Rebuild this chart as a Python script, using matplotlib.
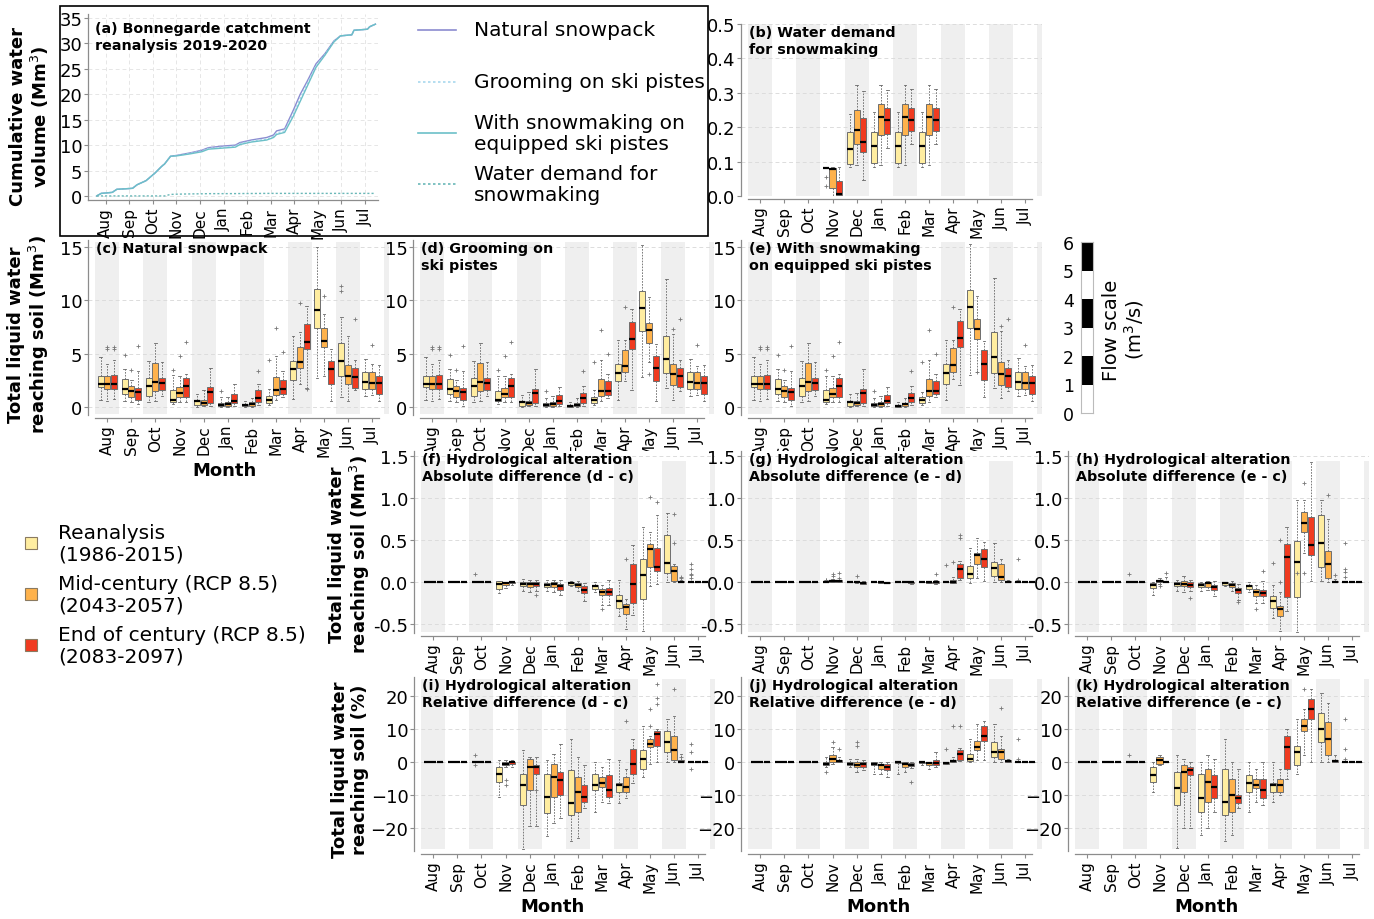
import matplotlib
matplotlib.use("Agg")
import matplotlib.pyplot as plt
from matplotlib.patches import Rectangle
from matplotlib.lines import Line2D

W, H = 1374, 920

months = ["Aug", "Sep", "Oct", "Nov", "Dec", "Jan", "Feb", "Mar", "Apr", "May", "Jun", "Jul"]
scenarios = ["Reanalysis\n(1986-2015)", "Mid-century (RCP 8.5)\n(2043-2057)",
             "End of century (RCP 8.5)\n(2083-2097)"]
colors = ["#ffeda0", "#feb24c", "#f03b20"]

# (a) cumulative volumes, x in month units (Aug = 1)
a_x = [0.62, 0.81, 1.28, 1.47, 2.14, 2.33, 2.71, 3.09, 3.37, 3.50, 3.75, 4.04, 4.61, 5.08, 5.36,
       5.93, 6.50, 6.69, 7.17, 7.83, 8.12, 8.25, 8.59, 8.97, 9.25, 9.54, 9.92, 10.30, 10.68,
       10.96, 11.44, 11.53, 12.10, 12.20, 12.44]
a_natural = [0, 0.5, 0.7, 1.3, 1.5, 2.2, 3.0, 4.5, 5.8, 6.3, 7.8, 8.0, 8.5, 9.0, 9.5, 9.8, 10.0,
             10.5, 11.0, 11.5, 12.0, 12.8, 13.2, 17.0, 20.0, 22.5, 26.0, 28.0, 30.5, 31.5, 31.7,
             32.6, 32.8, 33.3, 33.8]
a_grooming = [0, 0.5, 0.7, 1.3, 1.5, 2.2, 3.0, 4.5, 5.8, 6.3, 7.8, 7.95, 8.4, 8.85, 9.35, 9.6,
              9.8, 10.3, 10.8, 11.2, 11.7, 12.4, 12.8, 16.3, 19.2, 22.0, 25.6, 27.8, 30.4, 31.5,
              31.7, 32.6, 32.8, 33.3, 33.8]
a_snowmaking = [0, 0.5, 0.7, 1.3, 1.5, 2.2, 3.0, 4.5, 5.8, 6.3, 7.8, 7.9, 8.3, 8.7, 9.2, 9.4,
                9.6, 10.1, 10.6, 11.0, 11.5, 12.1, 12.5, 15.8, 18.6, 21.5, 25.3, 27.7, 30.3,
                31.5, 31.7, 32.6, 32.8, 33.3, 33.8]
a_demand = [0, 0, 0, 0, 0, 0, 0, 0, 0, 0, 0.3, 0.35, 0.4, 0.42, 0.45, 0.45, 0.46, 0.47, 0.48,
            0.5, 0.5, 0.5, 0.5, 0.5, 0.5, 0.5, 0.5, 0.5, 0.5, 0.5, 0.5, 0.5, 0.5, 0.5, 0.5]

Z = (0, 0, 0, 0, 0)
# box stats per month: (whisker low, q1, median, q3, whisker high)
b_rea = [None, None, None, (0.08, 0.08, 0.08, 0.08, 0.08), (0.084, 0.094, 0.137, 0.186, 0.239),
         (0.084, 0.097, 0.144, 0.186, 0.244), (0.084, 0.097, 0.144, 0.186, 0.244),
         (0.084, 0.097, 0.144, 0.186, 0.244), None, None, None, None]
b_mid = [None, None, None, (0.0, 0.023, 0.079, 0.081, 0.084), (0.089, 0.152, 0.193, 0.25, 0.323),
         (0.089, 0.178, 0.229, 0.268, 0.323), (0.089, 0.178, 0.229, 0.268, 0.323),
         (0.089, 0.178, 0.229, 0.268, 0.323), None, None, None, None]
b_end = [None, None, None, (0.0, 0.004, 0.007, 0.045, 0.084), (0.047, 0.128, 0.157, 0.227, 0.304),
         (0.139, 0.181, 0.22, 0.256, 0.309), (0.15, 0.189, 0.22, 0.256, 0.31),
         (0.15, 0.189, 0.22, 0.256, 0.31), None, None, None, None]
b_fliers = [{3: [0.03, 0.055]}, {}, {}]

c_rea = [(0.7, 1.9, 2.2, 2.9, 4.7), (0.6, 1.25, 1.7, 2.65, 3.6), (0.5, 1.0, 2.0, 2.7, 4.3),
         (0.3, 0.5, 0.7, 1.6, 3.0), (0.0, 0.15, 0.6, 0.7, 1.25), (0.0, 0.05, 0.2, 0.4, 0.95),
         (0.0, 0.05, 0.15, 0.25, 0.6), (0.15, 0.35, 0.7, 1.0, 1.7), (0.75, 2.55, 3.55, 4.35, 6.7),
         (2.75, 7.4, 9.1, 11.05, 15.0), (0.95, 2.95, 4.35, 6.0, 8.4), (1.0, 1.7, 2.35, 3.25, 4.5)]
c_mid = [(0.6, 1.7, 2.2, 2.9, 4.0), (0.5, 0.95, 1.5, 1.95, 2.5), (0.6, 1.5, 2.3, 4.1, 6.0),
         (0.45, 0.9, 1.3, 1.85, 2.95), (0.05, 0.2, 0.4, 0.7, 1.55), (0.0, 0.1, 0.3, 0.45, 0.9),
         (0.03, 0.1, 0.25, 0.45, 0.85), (0.7, 1.15, 1.55, 2.8, 4.8), (2.2, 3.65, 4.25, 5.65, 7.0),
         (2.9, 5.6, 6.2, 7.4, 8.7), (0.6, 2.2, 2.95, 3.95, 6.7), (1.1, 1.7, 2.25, 3.25, 4.0)]
c_end = [(0.75, 1.7, 2.2, 3.0, 4.4), (0.25, 0.7, 1.45, 1.8, 3.4), (1.0, 1.6, 2.25, 2.7, 4.2),
         (0.45, 0.95, 2.0, 2.75, 3.1), (0.05, 0.4, 1.4, 1.85, 3.65), (0.05, 0.35, 0.6, 1.25, 2.2),
         (0.15, 0.45, 0.85, 1.55, 2.2), (0.9, 1.25, 1.65, 2.5, 3.4), (1.8, 5.45, 6.05, 7.8, 9.5),
         (0.6, 2.2, 3.55, 4.3, 5.45), (1.55, 1.8, 2.85, 3.65, 4.4), (0.6, 1.2, 2.25, 2.95, 3.95)]
c_fliers = [{1: [4.9], 3: [3.5], 5: [1.5], 7: [4.4], 10: [10.9, 11.3]},
            {0: [5.4, 5.6], 1: [3.5], 3: [4.8], 7: [7.4], 8: [9.7], 9: [10.4], 11: [5.8]},
            {0: [5.4, 5.6], 1: [5.7], 3: [6.1], 6: [3.4], 7: [5.2], 8: [1.65], 10: [8.2]}]

d_rea = [(0.7, 1.9, 2.2, 2.9, 4.7), (0.6, 1.25, 1.7, 2.65, 3.6), (0.5, 1.0, 2.0, 2.7, 4.3),
         (0.3, 0.6, 0.7, 1.5, 2.9), (0.0, 0.1, 0.45, 0.6, 1.1), (0.0, 0.05, 0.15, 0.35, 0.8),
         (0.0, 0.03, 0.1, 0.2, 0.5), (0.15, 0.35, 0.65, 0.95, 1.6), (0.7, 2.4, 3.2, 4.0, 6.3),
         (2.8, 7.1, 9.3, 10.9, 15.2), (1.8, 3.2, 4.5, 6.7, 12.0), (1.0, 1.7, 2.35, 3.25, 4.5)]
d_mid = [(0.6, 1.7, 2.2, 2.9, 4.0), (0.5, 0.95, 1.5, 1.95, 2.5), (0.6, 1.5, 2.3, 4.1, 6.0),
         (0.45, 0.9, 1.25, 1.8, 2.9), (0.05, 0.15, 0.35, 0.6, 1.4), (0.0, 0.1, 0.3, 0.45, 1.0),
         (0.03, 0.1, 0.2, 0.4, 0.8), (0.6, 1.05, 1.5, 2.6, 4.4), (2.4, 3.3, 3.85, 5.3, 6.3),
         (4.2, 6.0, 7.2, 7.9, 10.3), (0.7, 2.1, 3.05, 4.0, 6.8), (1.1, 1.7, 2.25, 3.25, 3.8)]
d_end = [(0.75, 1.7, 2.2, 3.0, 4.4), (0.1, 0.7, 1.4, 1.8, 3.4), (1.0, 1.6, 2.25, 2.7, 4.2),
         (0.45, 0.95, 1.95, 2.7, 3.1), (0.05, 0.35, 1.3, 1.7, 3.6), (0.05, 0.3, 0.55, 1.15, 1.9),
         (0.1, 0.4, 0.8, 1.3, 2.0), (0.8, 1.15, 1.5, 2.4, 3.1), (1.6, 5.4, 6.4, 8.0, 9.2),
         (0.6, 2.4, 3.7, 4.8, 5.9), (1.5, 1.9, 2.9, 3.7, 4.4), (0.6, 1.2, 2.25, 2.95, 3.95)]
d_fliers = [{1: [4.9], 3: [3.5], 5: [1.5], 7: [4.2]},
            {0: [5.4, 5.6], 1: [3.5], 3: [4.8], 7: [7.2], 8: [9.4], 9: [3.1], 10: [7.3], 11: [5.8]},
            {0: [5.4, 5.6], 1: [5.7], 3: [6.1], 6: [3.4], 7: [5.0], 10: [8.2]}]

e_rea = [(0.7, 1.9, 2.2, 2.9, 4.7), (0.6, 1.25, 1.7, 2.65, 3.6), (0.5, 1.0, 2.0, 2.7, 4.3),
         (0.3, 0.5, 0.65, 1.55, 2.9), (0.0, 0.1, 0.45, 0.6, 1.2), (0.0, 0.05, 0.15, 0.35, 0.8),
         (0.0, 0.03, 0.1, 0.2, 0.5), (0.15, 0.4, 0.65, 0.95, 1.4), (0.7, 2.2, 3.2, 4.0, 6.3),
         (3.0, 7.4, 9.4, 11.0, 15.3), (1.8, 3.2, 4.7, 7.0, 12.1), (1.0, 1.7, 2.35, 3.3, 4.6)]
e_mid = [(0.6, 1.7, 2.2, 2.9, 4.0), (0.5, 0.95, 1.5, 1.95, 2.5), (0.6, 1.5, 2.3, 4.1, 6.0),
         (0.45, 0.9, 1.25, 1.8, 2.9), (0.05, 0.15, 0.35, 0.6, 1.3), (0.0, 0.1, 0.3, 0.45, 1.0),
         (0.03, 0.1, 0.25, 0.4, 0.8), (0.5, 1.0, 1.5, 2.6, 4.4), (2.6, 3.3, 3.9, 5.5, 6.3),
         (3.3, 6.4, 7.3, 8.2, 10.4), (0.8, 2.1, 3.1, 4.2, 7.1), (1.1, 1.7, 2.25, 3.3, 3.8)]
e_end = [(0.75, 1.7, 2.2, 3.0, 4.4), (0.1, 0.7, 1.4, 1.8, 3.4), (1.0, 1.6, 2.25, 2.7, 4.2),
         (0.45, 0.95, 2.0, 2.75, 3.1), (0.05, 0.35, 1.35, 1.7, 3.6), (0.05, 0.4, 0.55, 1.15, 1.9),
         (0.15, 0.45, 0.85, 1.3, 2.0), (0.9, 1.2, 1.5, 2.4, 3.1), (2.1, 5.6, 6.5, 8.1, 9.2),
         (0.9, 2.5, 4.0, 5.3, 6.2), (1.5, 1.9, 2.9, 3.7, 4.4), (0.6, 1.2, 2.25, 2.95, 3.95)]
e_fliers = [{1: [4.9], 3: [3.5], 5: [1.5], 7: [4.2]},
            {0: [5.4, 5.6], 1: [3.5], 3: [4.8], 7: [7.2], 8: [9.4], 9: [3.3], 10: [7.6], 11: [5.8]},
            {0: [5.4, 5.6], 1: [5.7], 3: [6.1], 6: [3.4], 7: [5.0], 10: [8.2]}]

f_rea = [Z, Z, Z, (-0.13, -0.08, -0.02, 0.01, 0.01), (-0.11, -0.05, -0.02, 0.0, 0.04),
         (-0.11, -0.06, -0.03, -0.01, 0.02), (-0.05, -0.03, -0.01, 0.0, 0.01),
         (-0.12, -0.08, -0.05, -0.03, 0.0), (-0.41, -0.31, -0.23, -0.16, 0.03),
         (-0.58, -0.2, 0.08, 0.28, 0.65), (0.0, 0.11, 0.23, 0.56, 0.82), Z]
f_mid = [Z, Z, Z, (-0.07, -0.03, -0.01, 0.0, 0.0), (-0.12, -0.06, -0.02, 0.0, 0.03),
         (-0.12, -0.06, -0.02, 0.0, 0.02), (-0.11, -0.06, -0.04, -0.01, 0.01),
         (-0.27, -0.16, -0.12, -0.08, -0.03), (-0.56, -0.38, -0.3, -0.26, -0.2),
         (-0.05, 0.18, 0.39, 0.45, 0.6), (0.0, 0.01, 0.13, 0.19, 0.22), Z]
f_end = [Z, Z, Z, (-0.04, -0.01, 0.0, 0.0, 0.0), (-0.11, -0.05, -0.02, 0.0, 0.03),
         (-0.16, -0.09, -0.05, -0.02, 0.03), (-0.23, -0.13, -0.09, -0.05, -0.01),
         (-0.27, -0.16, -0.12, -0.07, 0.03), (-0.39, -0.25, -0.02, 0.21, 0.44),
         (-0.02, 0.13, 0.18, 0.41, 0.8), (0.0, 0.0, 0.0, 0.01, 0.03), Z]
f_fliers = [{2: [0.1], 11: [0.21, 0.15, 0.1, 0.08, 0.05]},
            {7: [-0.32], 8: [0.27], 9: [1.01], 10: [0.47, 0.81]},
            {4: [-0.16], 9: [0.95], 10: [0.05, 0.06]}]

g_rea = [Z, Z, Z, (0, 0, 0, 0, 0.01), Z, Z, Z, Z, Z, (-0.01, 0.05, 0.1, 0.19, 0.4),
         (0.0, 0.07, 0.17, 0.24, 0.46), Z]
g_mid = [Z, Z, Z, (0, 0, 0.01, 0.02, 0.04), (-0.01, 0, 0, 0, 0.01), (-0.01, -0.01, 0, 0, 0), Z,
         (-0.01, -0.01, 0, 0, 0), (-0.01, -0.01, 0.0, 0.02, 0.06), (0.05, 0.22, 0.32, 0.35, 0.53),
         (0.0, 0.02, 0.06, 0.21, 0.27), Z]
g_end = [Z, Z, Z, (0, 0, 0.01, 0.02, 0.03), (-0.02, -0.02, -0.01, 0, 0.01),
         (-0.01, -0.01, -0.01, 0, 0), (-0.02, -0.01, 0, 0, 0), (-0.02, -0.01, 0, 0.01, 0.02),
         (0.02, 0.05, 0.15, 0.21, 0.25), (0.01, 0.18, 0.28, 0.39, 0.48), (0, 0, 0, 0.01, 0.03), Z]
g_fliers = [{3: [0.02, 0.03], 8: [0.2], 11: [0.27, 0.03]},
            {3: [0.07, 0.1], 4: [0.07], 8: [0.24]},
            {3: [0.05, 0.11], 7: [0.1], 8: [0.53, 0.56]}]

h_rea = [Z, Z, Z, (-0.15, -0.07, -0.03, -0.01, 0.0), (-0.11, -0.05, -0.02, 0.0, 0.03),
         (-0.11, -0.06, -0.03, -0.01, 0.0), (-0.05, -0.03, -0.01, 0.0, 0.0),
         (-0.12, -0.08, -0.05, -0.03, 0.0), (-0.43, -0.31, -0.23, -0.17, -0.03),
         (-0.6, -0.18, 0.24, 0.49, 0.98), (0.01, 0.18, 0.46, 0.8, 0.98), Z]
h_mid = [Z, Z, Z, (-0.02, 0.0, 0.01, 0.02, 0.05), (-0.12, -0.05, -0.02, 0.01, 0.07),
         (-0.1, -0.06, -0.01, 0.0, 0.01), (-0.11, -0.06, -0.04, -0.01, 0.01),
         (-0.25, -0.17, -0.12, -0.08, -0.03), (-0.58, -0.4, -0.32, -0.28, -0.12),
         (0.34, 0.6, 0.7, 0.83, 0.98), (0.0, 0.05, 0.21, 0.37, 0.75), Z]
h_end = [Z, Z, Z, (0.0, 0.0, 0.0, 0.0, 0.06), (-0.11, -0.06, -0.03, 0.0, 0.02),
         (-0.17, -0.09, -0.06, -0.03, 0.01), (-0.21, -0.13, -0.1, -0.07, -0.02),
         (-0.25, -0.17, -0.13, -0.1, 0.01), (-0.35, -0.18, 0.3, 0.45, 0.65),
         (0.01, 0.32, 0.44, 0.78, 1.43), (0.0, 0.0, 0.0, 0.01, 0.04), Z]
h_fliers = [{2: [0.1], 8: [0.23], 9: [0.11], 11: [0.47, 0.16, 0.12, 0.06]},
            {3: [-0.05], 7: [-0.32], 8: [0.5, 0.0], 9: [1.18, 0.11], 10: [1.04]},
            {3: [0.11], 4: [-0.19], 6: [-0.24], 7: [0.13], 10: [0.08]}]

i_rea = [Z, Z, Z, (-10.5, -6, -3.5, -1.5, 0.5), (-26.5, -13, -7, -3.5, 3.5),
         (-22.5, -15.5, -10.5, -3.5, 0.5), (-24, -16, -12.5, -2.5, 7), (-15, -8.5, -7, -3.5, 0),
         (-12.5, -9, -7, -6.5, 0.5), (-4.5, -2, 1, 3.5, 11), (0, 3, 6, 9.5, 13), Z]
i_mid = [Z, Z, Z, (-1.5, -1, -0.5, 0, 0.5), (-19.5, -8.5, -1.5, 1, 1.5),
         (-18.5, -10.5, -4.5, -0.5, 2.5), (-23, -15, -9, -4.5, 1.5), (-12, -7.5, -6.5, -4.5, -1.5),
         (-11, -9, -7.5, -4.5, -2), (-0.5, 4.5, 5.5, 7, 8), (0, 0.5, 3.5, 8, 14), Z]
i_end = [Z, Z, Z, (-1.5, -0.5, 0, 0, 0.5), (-19.5, -3.5, -1.5, -1, 1.5),
         (-17, -10, -5.5, -3, 5.5), (-14, -12, -10.5, -7, -1), (-12.5, -10.5, -8.5, -4, 1),
         (-6.5, -3.5, -0.5, 4, 7), (0, 5, 8.5, 9.5, 10), (0, 0, 0, 0.5, 2.5), Z]
i_fliers = [{2: [2, -1], 11: [5.5, 3, -2]},
            {3: [-5.5, -7], 8: [12.5], 9: [11, 16], 10: [22]},
            {4: [-8.5], 9: [17.5, 19.5, 23.5], 10: [1.5]}]

j_rea = [Z, Z, Z, (-1.5, -1, -0.5, 0, 1.5), (-1.5, -1, -0.5, 0, 1), (-3.5, -1, -0.5, 0, 0),
         (-3.5, -0.2, 0, 0, 0), (-1, -0.3, 0, 0, 0), (-0.5, -0.5, -0.2, 0, 0), (0, 0.3, 1, 2.5, 7),
         (0, 1.5, 3, 6, 11.5), Z]
j_mid = [Z, Z, Z, (-0.5, 0, 1, 2, 4.5), (-3, -1.5, -1, 0, 1), (-3.5, -2, -1, -0.5, 0),
         (-3, -1.5, -0.5, 0, 0), (-2, -0.8, -0.4, 0, 0), (0, 0, 0.2, 0.5, 1.5),
         (0.5, 3.5, 4.5, 6.5, 11.5), (0, 1, 3, 4, 8), Z]
j_end = [Z, Z, Z, (0, 0, 0.3, 0.7, 1.5), (-2.5, -1.5, -0.5, 0, 0.5), (-4.5, -2.5, -1.5, -0.5, 0),
         (-1.8, -1.3, -0.8, -0.3, 0), (-1.5, -0.8, -0.2, 0.5, 3), (0.3, 0.5, 2.5, 3.5, 4.2),
         (0.5, 6.5, 8, 11, 12.5), (0, 0, 0.2, 0.5, 1), Z]
j_fliers = [{3: [-3], 8: [4], 11: [7, 1]},
            {3: [6], 4: [5, 6.2], 8: [11], 10: [16.5]},
            {3: [4], 6: [-6], 8: [11]}]

k_rea = [Z, Z, Z, (-9, -6, -4, -1.5, 0), (-26, -13, -8, -3, 2), (-22, -15, -11, -3.5, 0),
         (-24, -16, -12, -2, 7), (-15, -9, -6.5, -4, 0), (-12, -9, -7, -6.5, 0),
         (-3.5, -1, 3, 5, 13), (0, 6, 10, 15, 21), Z]
k_mid = [Z, Z, Z, (-1, -0.5, 0.5, 1.5, 2), (-20, -9, -3, -1, 1), (-20, -12, -6, -2, 2),
         (-22, -15, -10, -5, 0), (-12, -8, -7, -5, -2), (-10, -9, -7, -5, -2),
         (2, 9.5, 11, 13, 16), (0, 2, 7, 12, 18), Z]
k_end = [Z, Z, Z, Z, (-20, -4, -2.5, -1.5, 0), (-15, -11, -7.5, -4, 1), (-14, -12.5, -11, -10, -2),
         (-13, -11, -8.5, -5, 0), (-5, -2, 4.5, 8, 10), (0, 13, 16, 19, 22), (0, 0, 0.2, 0.5, 2), Z]
k_fliers = [{2: [2], 11: [13, 4, 1]}, {9: [22]}, {}]

flow_ticks = [0, 1, 2, 3, 4, 5, 6]


def rect(l, t, r, b):
    return [l / W, 1 - b / H, (r - l) / W, (b - t) / H]


def fx(x):
    return x / W


def fy(y):
    return 1 - y / H


fig = plt.figure(figsize=(W / 100, H / 100), dpi=100)

GRID = "#dcdcdc"
SPINE = "#8c8c8c"


def style_axes(ax):
    for s in ["top", "right"]:
        ax.spines[s].set_visible(False)
    for s in ["left", "bottom"]:
        ax.spines[s].set_color(SPINE)
        ax.spines[s].set_linewidth(0.9)
    ax.tick_params(axis="y", labelsize=13, length=3, color=SPINE, pad=1)
    ax.tick_params(axis="x", labelsize=11, length=3, color=SPINE, pad=2)


def box_panel(pos, ylim, yticks, band_y, series, fliers, title):
    ax = fig.add_axes(rect(*pos))
    ax.set_xlim(0.2, 12.7)
    ax.set_ylim(*ylim)
    for m in range(1, 14, 2):
        ax.add_patch(Rectangle((m - 0.5, band_y[0]), 1, band_y[1] - band_y[0],
                               facecolor="#efefef", edgecolor="none", zorder=0.2))
    ax.set_yticks(yticks)
    ax.yaxis.grid(True, linestyle=(0, (4, 3)), color=GRID, linewidth=0.7, zorder=0.3)
    ax.set_axisbelow(True)
    offsets = [-0.28, 0.0, 0.28]
    for k, (ser, fl) in enumerate(zip(series, fliers)):
        stats, positions = [], []
        for i, v in enumerate(ser):
            if v is None:
                continue
            lo, q1, med, q3, hi = v
            stats.append(dict(whislo=lo, q1=q1, med=med, q3=q3, whishi=hi, fliers=fl.get(i, [])))
            positions.append(i + 1 + offsets[k])
        ax.bxp(stats, positions=positions, widths=0.25, patch_artist=True, manage_ticks=False,
               boxprops=dict(facecolor=colors[k], edgecolor="#6e6e6e", linewidth=0.7),
               medianprops=dict(color="black", linewidth=1.6),
               whiskerprops=dict(color="#666666", linewidth=0.6, linestyle=(0, (2, 1.5))),
               capprops=dict(color="#666666", linewidth=0.6), capwidths=0.1,
               flierprops=dict(marker="+", markersize=3, markeredgecolor="#777777",
                               markeredgewidth=0.6))
    style_axes(ax)
    ax.spines["bottom"].set_position(("outward", 2))
    ax.spines["bottom"].set_bounds(0.5, 12.3)
    ax.set_xticks(range(1, 13))
    ax.set_xticklabels(months, rotation=90)
    ax.text(0.52, 0.995, title, transform=ax.get_xaxis_transform(), ha="left", va="top",
            fontsize=10.3, fontweight="bold", linespacing=1.3, zorder=5)
    return ax


# ---- panel (a)
ax_a = fig.add_axes(rect(88, 15, 378, 201))
ax_a.plot(a_x, a_natural, color="#8b8bd0", lw=1.0, zorder=3)
ax_a.plot(a_x, a_grooming, color="#a8d8ee", lw=1.0, ls=(0, (1.5, 1.5)), zorder=3)
ax_a.plot(a_x, a_snowmaking, color="#6cc0c8", lw=1.0, zorder=3)
ax_a.plot(a_x, a_demand, color="#6ab8b8", lw=1.0, ls=(0, (1.5, 1.5)), zorder=3)
ax_a.set_xlim(0.25, 12.55)
ax_a.set_ylim(-0.8, 35.8)
ax_a.set_yticks(range(0, 36, 5))
ax_a.set_xticks(range(1, 13))
ax_a.set_xticklabels(months, rotation=90)
ax_a.grid(True, linestyle=(0, (4, 3)), color="#e6e6e6", linewidth=0.7)
ax_a.set_axisbelow(True)
style_axes(ax_a)
ax_a.text(0.55, 34.5, "(a) Bonnegarde catchment\nreanalysis 2019-2020", ha="left", va="top",
          fontsize=10.3, fontweight="bold", linespacing=1.3)

fig.add_artist(Rectangle((fx(60), fy(237)), fx(708) - fx(60), fy(7) - fy(237),
                         transform=fig.transFigure, fill=False, edgecolor="black", lw=1.2))

leg_a = [("Natural snowpack", "#8b8bd0", "-", 31),
         ("Grooming on ski pistes", "#a8d8ee", (0, (1.5, 1.5)), 83),
         ("With snowmaking on\nequipped ski pistes", "#6cc0c8", "-", 134),
         ("Water demand for\nsnowmaking", "#6ab8b8", (0, (1.5, 1.5)), 185)]
for lab, col, ls, yc in leg_a:
    fig.add_artist(Line2D([fx(418), fx(456)], [fy(yc), fy(yc)], transform=fig.transFigure,
                          color=col, lw=1.2, ls=ls))
    fig.text(fx(474), fy(yc), lab, ha="left", va="center", fontsize=14.5, linespacing=1.15)

# ---- panel (b)
box_panel((741, 25, 1042, 197), (0, 0.5), [0, 0.1, 0.2, 0.3, 0.4, 0.5], (0, 0.5),
          [b_rea, b_mid, b_end], b_fliers, "(b) Water demand\nfor snowmaking")

# ---- row 2
ylim2, band2, ticks2 = (-0.75, 15.65), (-0.66, 15.47), [0, 5, 10, 15]
box_panel((88, 241, 389, 416), ylim2, ticks2, band2, [c_rea, c_mid, c_end], c_fliers,
          "(c) Natural snowpack")
box_panel((413, 241, 714, 416), ylim2, ticks2, band2, [d_rea, d_mid, d_end], d_fliers,
          "(d) Grooming on\nski pistes")
box_panel((741, 241, 1042, 416), ylim2, ticks2, band2, [e_rea, e_mid, e_end], e_fliers,
          "(e) With snowmaking\non equipped ski pistes")

# ---- row 3
ylim3, band3, ticks3 = (-0.607, 1.56), (-0.595, 1.44), [-0.5, 0.0, 0.5, 1.0, 1.5]
for pos, ser, fl, t in [((414, 452, 715, 634), [f_rea, f_mid, f_end], f_fliers,
                         "(f) Hydrological alteration\nAbsolute difference (d - c)"),
                        ((741, 452, 1042, 634), [g_rea, g_mid, g_end], g_fliers,
                         "(g) Hydrological alteration\nAbsolute difference (e - d)"),
                        ((1068, 452, 1369, 634), [h_rea, h_mid, h_end], h_fliers,
                         "(h) Hydrological alteration\nAbsolute difference (e - c)")]:
    ax = box_panel(pos, ylim3, ticks3, band3, ser, fl, t)
    ax.set_yticklabels(["-0.5", "0.0", "0.5", "1.0", "1.5"])

# ---- row 4
ylim4, band4, ticks4 = (-26.97, 25.76), (-26.4, 25.2), [-20, -10, 0, 10, 20]
for pos, ser, fl, t in [((414, 678, 715, 852), [i_rea, i_mid, i_end], i_fliers,
                         "(i) Hydrological alteration\nRelative difference (d - c)"),
                        ((741, 678, 1042, 852), [j_rea, j_mid, j_end], j_fliers,
                         "(j) Hydrological alteration\nRelative difference (e - d)"),
                        ((1068, 678, 1369, 852), [k_rea, k_mid, k_end], k_fliers,
                         "(k) Hydrological alteration\nRelative difference (e - c)")]:
    box_panel(pos, ylim4, ticks4, band4, ser, fl, t)

# ---- axis titles
lab_kw = dict(rotation=90, ha="center", va="center", fontsize=13, fontweight="bold",
              linespacing=1.1, multialignment="center")
fig.text(fx(30), fy(117), "Cumulative water\nvolume (Mm$^3$)", **lab_kw)
fig.text(fx(29), fy(335), "Total liquid water\nreaching soil (Mm$^3$)", **lab_kw)
fig.text(fx(350), fy(555), "Total liquid water\nreaching soil (Mm$^3$)", **lab_kw)
fig.text(fx(350), fy(770), "Total liquid water\nreaching soil (%)", **lab_kw)
for xc, yc in [(225, 471), (552, 907), (879, 907), (1206, 907)]:
    fig.text(fx(xc), fy(yc), "Month", ha="center", va="center", fontsize=13, fontweight="bold")

# ---- scenario legend
for k, (lab, yc) in enumerate(zip(scenarios, [544, 595, 646])):
    fig.add_artist(Rectangle((fx(25), fy(yc + 6)), fx(12), 12 / H, transform=fig.transFigure,
                             facecolor=colors[k], edgecolor="#8a7a60", lw=0.8))
    fig.text(fx(58), fy(yc), lab, ha="left", va="center", fontsize=14.5, linespacing=1.15)

# ---- flow scale
ax_f = fig.add_axes(rect(1081, 243, 1093, 414))
seg_colors = ["white", "black", "white", "black", "white", "black"]
ax_f.bar([0] * 6, [1] * 6, bottom=flow_ticks[:-1], width=1, color=seg_colors, edgecolor="none")
ax_f.set_xlim(-0.5, 0.5)
ax_f.set_ylim(0, 6)
ax_f.set_xticks([])
ax_f.set_yticks(flow_ticks)
ax_f.tick_params(axis="y", length=0, labelsize=12.5, pad=5)
for s in ax_f.spines.values():
    s.set_color("#bbbbbb")
fig.text(fx(1124), fy(330), "Flow scale\n(m$^3$/s)", rotation=90, ha="center", va="center",
         fontsize=14, linespacing=1.1, multialignment="center")

fig.savefig("out.png", dpi=100)
